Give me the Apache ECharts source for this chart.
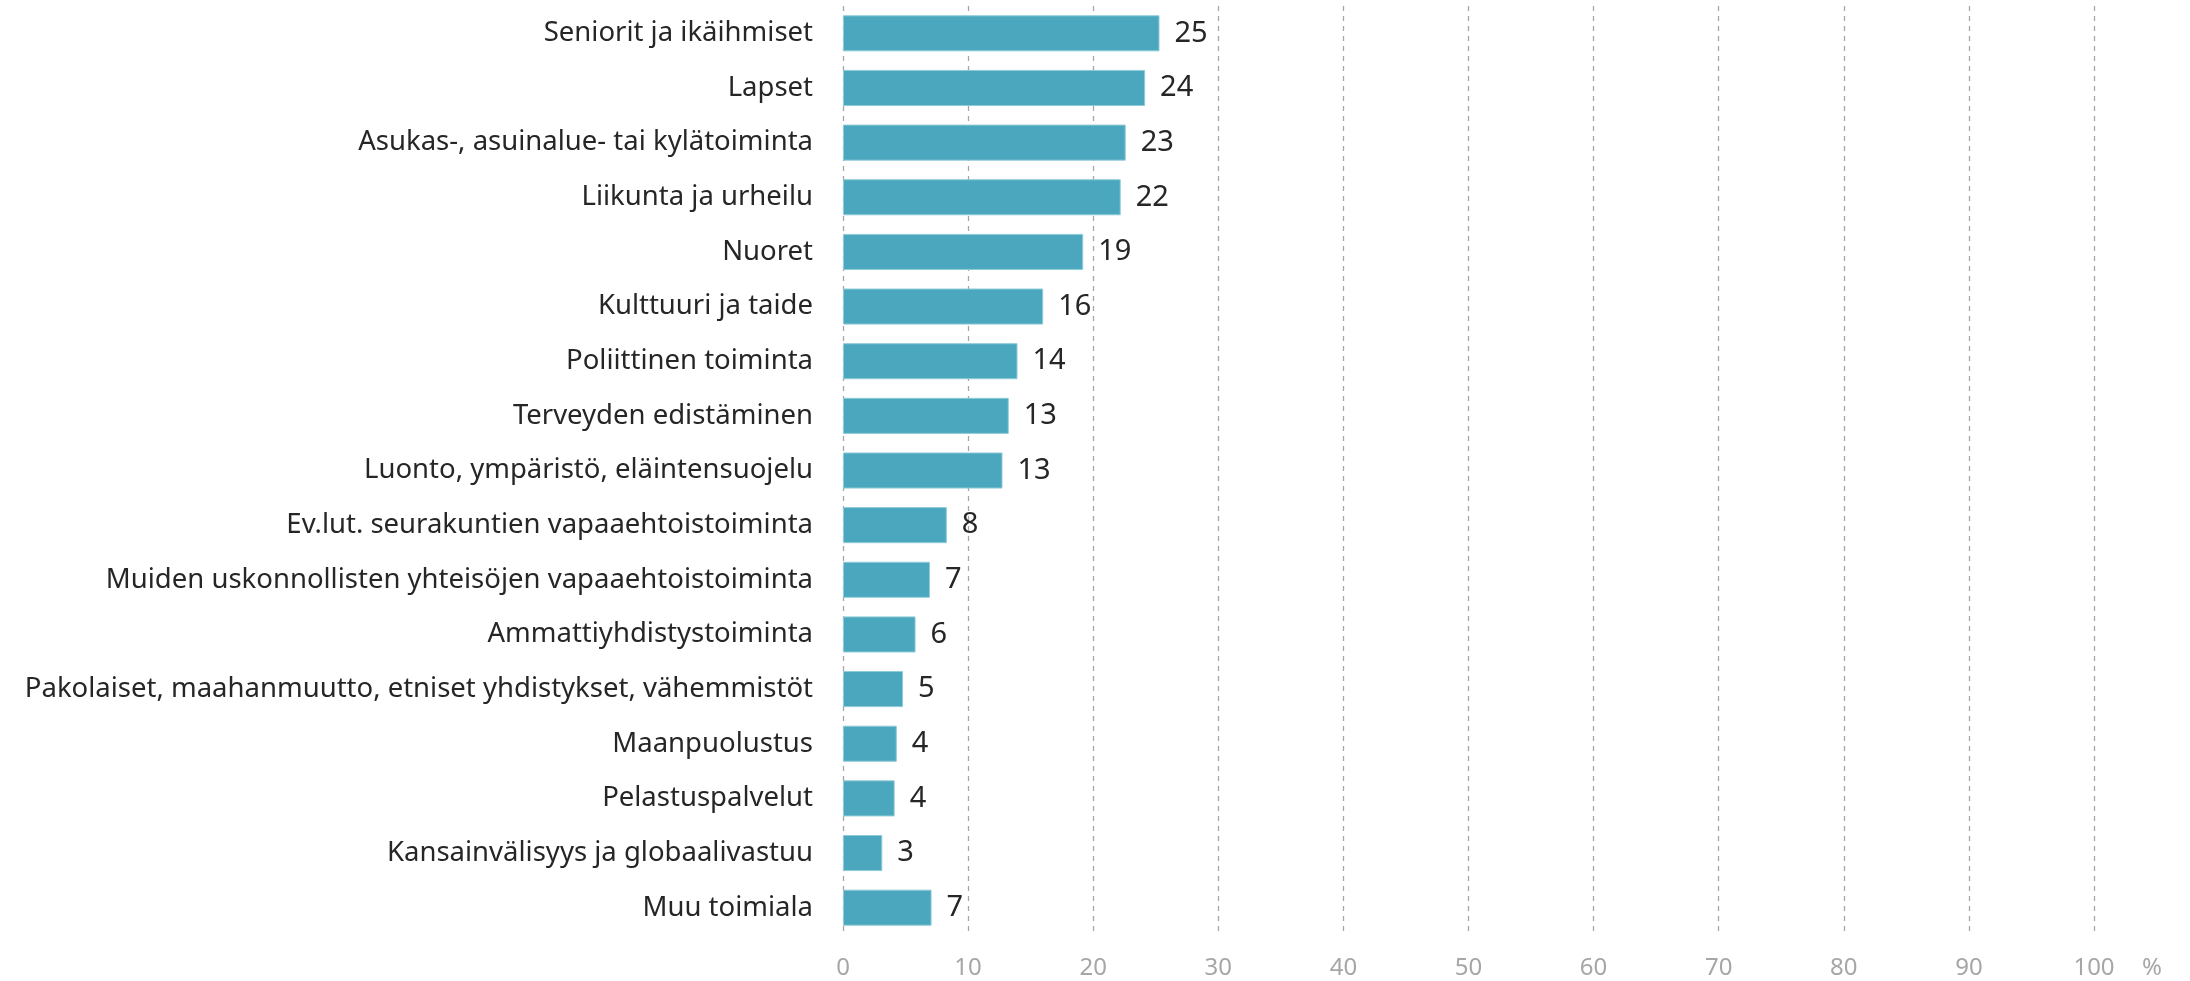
<!DOCTYPE html>
<html>
<head>
<meta charset="utf-8">
<script src="https://cdn.jsdelivr.net/npm/echarts@6/dist/echarts.min.js"></script>
<style>
html,body{margin:0;padding:0;background:#fff;}
#chart{width:2190px;height:981px;}
</style>
</head>
<body>
<div id="chart"></div>
<script>
const categories = [
  "Seniorit ja ikäihmiset",
  "Lapset",
  "Asukas-, asuinalue- tai kylätoiminta",
  "Liikunta ja urheilu",
  "Nuoret",
  "Kulttuuri ja taide",
  "Poliittinen toiminta",
  "Terveyden edistäminen",
  "Luonto, ympäristö, eläintensuojelu",
  "Ev.lut. seurakuntien vapaaehtoistoiminta",
  "Muiden uskonnollisten yhteisöjen vapaaehtoistoiminta",
  "Ammattiyhdistystoiminta",
  "Pakolaiset, maahanmuutto, etniset yhdistykset, vähemmistöt",
  "Maanpuolustus",
  "Pelastuspalvelut",
  "Kansainvälisyys ja globaalivastuu",
  "Muu toimiala"
];
const values = [25.3, 24.15, 22.6, 22.2, 19.2, 16.0, 13.95, 13.25, 12.75, 8.3, 6.95, 5.8, 4.8, 4.3, 4.13, 3.14, 7.08];
const valueLabels = ["25","24","23","22","19","16","14","13","13","8","7","6","5","4","4","3","7"];
const xTicks = [0,10,20,30,40,50,60,70,80,90,100];
const unitLabel = "%";

const chart = echarts.init(document.getElementById('chart'), null, {renderer:'canvas'});
chart.setOption({
  animation: false,
  backgroundColor: '#ffffff',
  grid: {left: 843, right: 96, top: 6, height: 929, containLabel: false},
  xAxis: {
    type: 'value',
    min: xTicks[0],
    max: xTicks[xTicks.length-1],
    interval: 10,
    axisLine: {show: false},
    axisTick: {show: false},
    splitLine: {show: true, lineStyle: {type: [5,5], color: '#a6a6a6', width: 1.3}},
    axisLabel: {color: '#a6a6a6', fontSize: 24, fontFamily: 'Noto Sans', margin: 21},
    name: unitLabel,
    nameLocation: 'end',
    nameGap: 48,
    nameTextStyle: {color: '#a6a6a6', fontSize: 24, fontFamily: 'Noto Sans', verticalAlign: 'top', align: 'left', padding: [21,0,0,0]}
  },
  yAxis: {
    type: 'category',
    data: categories,
    inverse: true,
    axisLine: {show: false},
    axisTick: {show: false},
    axisLabel: {color: '#262626', fontSize: 27.5, fontFamily: 'Noto Sans', margin: 30}
  },
  series: [{
    type: 'bar',
    data: values,
    barCategoryGap: '34%',
    itemStyle: {color: '#4ba7bd', borderColor: '#8fcbd8', borderWidth: 1},
    label: {
      show: true,
      position: 'right',
      distance: 15,
      color: '#262626',
      fontSize: 29,
      fontFamily: 'Noto Sans',
      formatter: p => valueLabels[p.dataIndex]
    }
  }]
});
</script>
</body>
</html>
